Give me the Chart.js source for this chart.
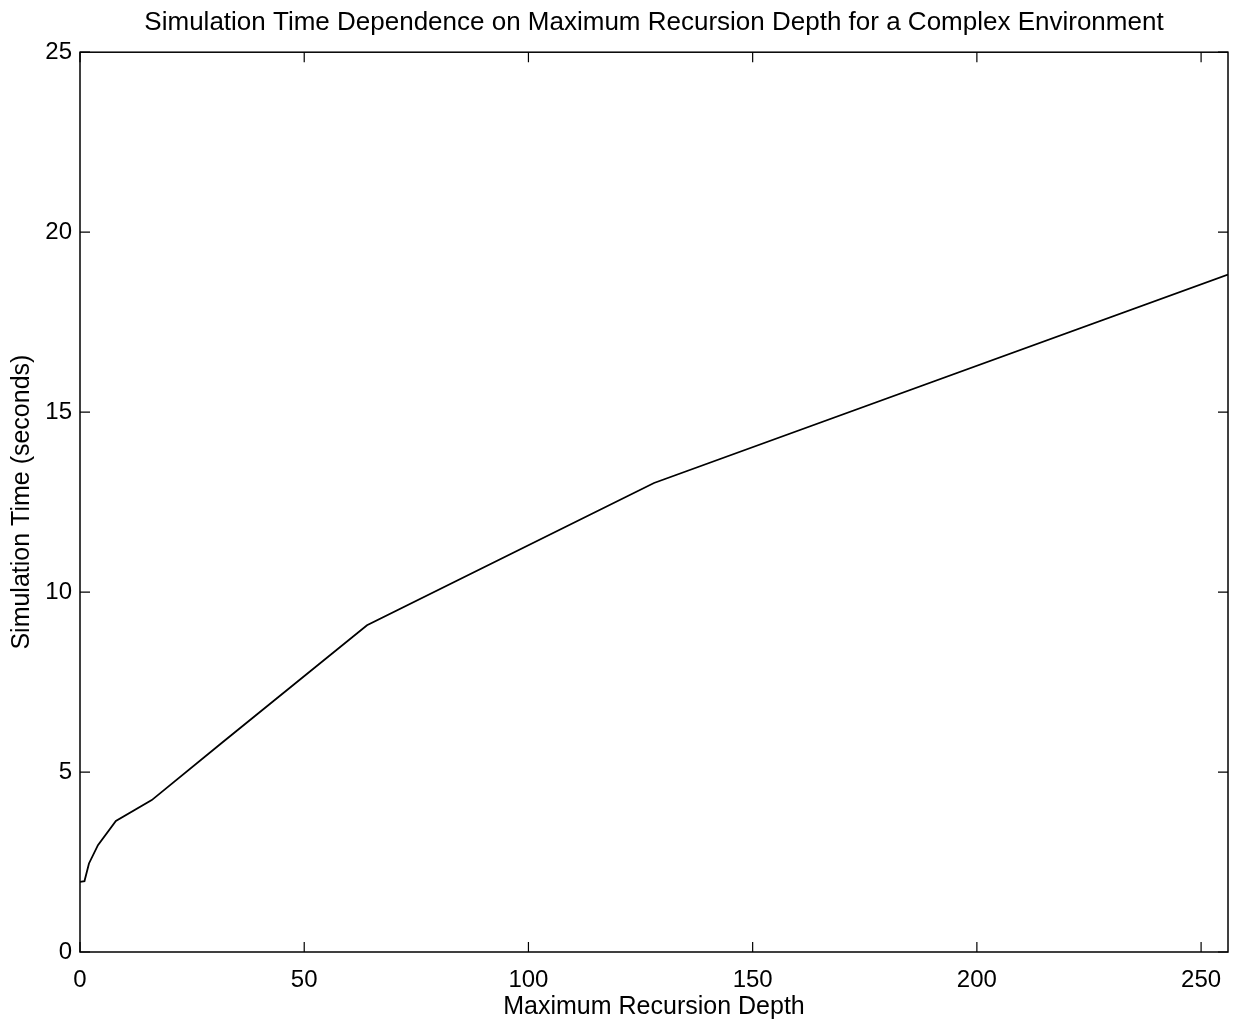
<!DOCTYPE html>
<html>
<head>
<meta charset="utf-8">
<title>Simulation Time vs Maximum Recursion Depth</title>
<script src="https://cdn.jsdelivr.net/npm/chart.js@4"></script>
<style>
	html, body { margin: 0; padding: 0; background: #fff; }
	#chart { display: block; }
</style>
</head>
<body>
<canvas id="chart" width="1233" height="1024"></canvas>
<script>
// Simulation time measured at each maximum recursion depth
const depths = [0, 1, 2, 4, 8, 16, 32, 64, 128, 256];
const simTimes = [1.95, 1.97, 2.46, 2.97, 3.64, 4.22, 5.85, 9.08, 13.03, 18.82];

const xTicks = [0, 50, 100, 150, 200, 250];
const yTicks = [0, 5, 10, 15, 20, 25];

const FONT = 'Liberation Sans, Arial, Helvetica, sans-serif';

// Matlab-style box with inward tick marks on all four sides
const boxTicks = {
	id: 'boxTicks',
	afterDraw(chart) {
		const { ctx, chartArea: a, scales } = chart;
		const len = 10;
		ctx.save();
		ctx.strokeStyle = '#000';
		ctx.lineWidth = 1.5;
		ctx.strokeRect(a.left, a.top, a.right - a.left, a.bottom - a.top);
		ctx.lineWidth = 1.2;
		ctx.beginPath();
		xTicks.forEach(v => {
			const x = scales.x.getPixelForValue(v);
			ctx.moveTo(x, a.bottom); ctx.lineTo(x, a.bottom - len);
			ctx.moveTo(x, a.top); ctx.lineTo(x, a.top + len);
		});
		yTicks.forEach(v => {
			const y = scales.y.getPixelForValue(v);
			ctx.moveTo(a.left, y); ctx.lineTo(a.left + len, y);
			ctx.moveTo(a.right, y); ctx.lineTo(a.right - len, y);
		});
		ctx.stroke();
		ctx.restore();
	}
};

new Chart(document.getElementById('chart'), {
	type: 'line',
	data: {
		datasets: [{
			data: depths.map((d, i) => ({ x: d, y: simTimes[i] })),
			borderColor: '#000',
			borderWidth: 1.8,
			pointRadius: 0,
			tension: 0,
			fill: false
		}]
	},
	options: {
		responsive: false,
		animation: false,
		layout: { padding: { left: 0, right: 5, top: 0, bottom: 0 } },
		plugins: {
			legend: { display: false },
			tooltip: { enabled: false },
			title: {
				display: true,
				fullSize: false,
				text: 'Simulation Time Dependence on Maximum Recursion Depth for a Complex Environment',
				color: '#000',
				font: { family: FONT, size: 26, weight: 'normal' },
				padding: { top: 7, bottom: 14 }
			}
		},
		scales: {
			x: {
				type: 'linear',
				min: 0,
				max: 256,
				afterBuildTicks: s => { s.ticks = xTicks.map(v => ({ value: v })); },
				afterFit: s => { s.height = 72; },
				grid: { display: false },
				border: { display: false },
				ticks: { color: '#000', font: { family: FONT, size: 24 }, padding: 6, maxRotation: 0 },
				title: {
					display: true,
					text: 'Maximum Recursion Depth',
					color: '#000',
					font: { family: FONT, size: 25 },
					padding: { top: 0, bottom: 2 }
				}
			},
			y: {
				min: 0,
				max: 25,
				afterBuildTicks: s => { s.ticks = yTicks.map(v => ({ value: v })); },
				afterFit: s => { s.width = 80; },
				grid: { display: false },
				border: { display: false },
				ticks: { color: '#000', font: { family: FONT, size: 24 }, padding: 0 },
				title: {
					display: true,
					text: 'Simulation Time (seconds)',
					color: '#000',
					font: { family: FONT, size: 25 },
					padding: { top: 7, bottom: 0 }
				}
			}
		}
	},
	plugins: [boxTicks]
});
</script>
</body>
</html>
